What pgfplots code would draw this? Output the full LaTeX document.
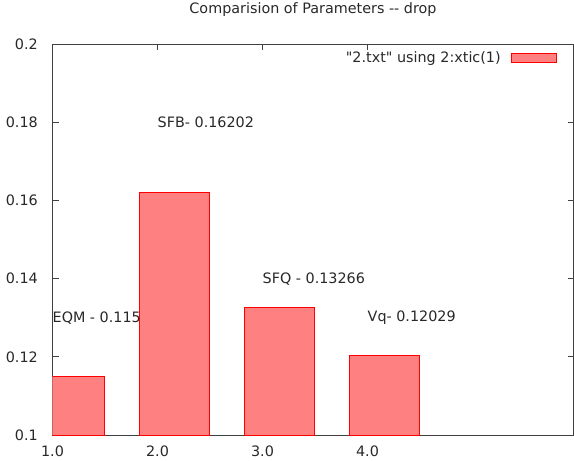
\documentclass[border=0pt]{standalone}
\usepackage{fontspec}
\setmainfont{DejaVu Sans}[Ligatures=TeXOff]
\usepackage{pgfplots}
\pgfplotsset{compat=1.18}
\usepackage{pgfplotstable}

\definecolor{barfill}{RGB}{255,128,128}
\definecolor{barline}{RGB}{255,0,0}
\definecolor{axisgray}{RGB}{64,64,64}
\definecolor{textgray}{RGB}{40,40,40}

% wide flat swatch for the legend
\pgfplotsset{
  wide box legend/.style={
    legend image code/.code={\draw[##1] (0bp,-4.25bp) rectangle (45bp,4.25bp);}
  }
}

% drop rate per method
\pgfplotstableread{
x  val
1  0.115
2  0.16202
3  0.13266
4  0.12029
}\droptable

% value labels, left-aligned at each category
\pgfplotstableread[col sep=comma]{
x,y,label
1,0.13,EQM - 0.115
2,0.18,SFB- 0.16202
3,0.14,SFQ - 0.13266
4,0.13,Vq- 0.12029
}\labeltable

\begin{document}
\fontsize{14.35bp}{17bp}\selectfont
\color{textgray}
\begin{tikzpicture}
\begin{axis}[
  scale only axis,
  width=521bp, height=390.7bp,
  xmin=1, xmax=5.962,
  ymin=0.1, ymax=0.2,
  axis line style={axisgray, line width=0.8bp},
  every tick/.style={axisgray, line width=0.8bp},
  major tick length=6bp,
  tick align=inside,
  xtick={1,2,3,4},
  xticklabels={1.0,2.0,3.0,4.0},
  ytick={0.1,0.12,0.14,0.16,0.18,0.2},
  yticklabels={0.1,0.12,0.14,0.16,0.18,0.2},
  xticklabel style={anchor=north, inner sep=0pt, yshift=-11bp},
  yticklabel style={anchor=east, inner sep=0pt, xshift=-14.5bp},
  title={Comparision of Parameters -- drop},
  title style={at={(0.5,1)}, anchor=center, yshift=28.8bp, inner sep=0pt},
  legend plot pos=right,
  legend cell align=right,
  legend style={draw=none, fill=none, inner sep=0pt,
    at={(1,0.965)}, anchor=east, xshift=-17bp,
    nodes={inner xsep=1bp}},
]
\addplot[ybar, bar width=0.667, bar shift=0.16,
  fill=barfill, draw=barline, line width=0.6bp, wide box legend]
  table[x=x, y=val] {\droptable};
\addlegendentry{"2.txt" using 2:xtic(1)\hspace*{9bp}}

\addplot[forget plot, only marks, mark=*, mark size=0pt,
  mark options={draw=none, fill=none},
  nodes near coords, point meta=explicit symbolic,
  nodes near coords style={anchor=west, inner sep=0pt, text=textgray}]
  table[x=x, y=y, meta=label] {\labeltable};
\end{axis}
\pgfresetboundingbox
\useasboundingbox ([shift={(-52.5bp,-26bp)}]current axis.south west)
  rectangle ([shift={(0.5bp,44.3bp)}]current axis.north east);
\end{tikzpicture}
\end{document}
